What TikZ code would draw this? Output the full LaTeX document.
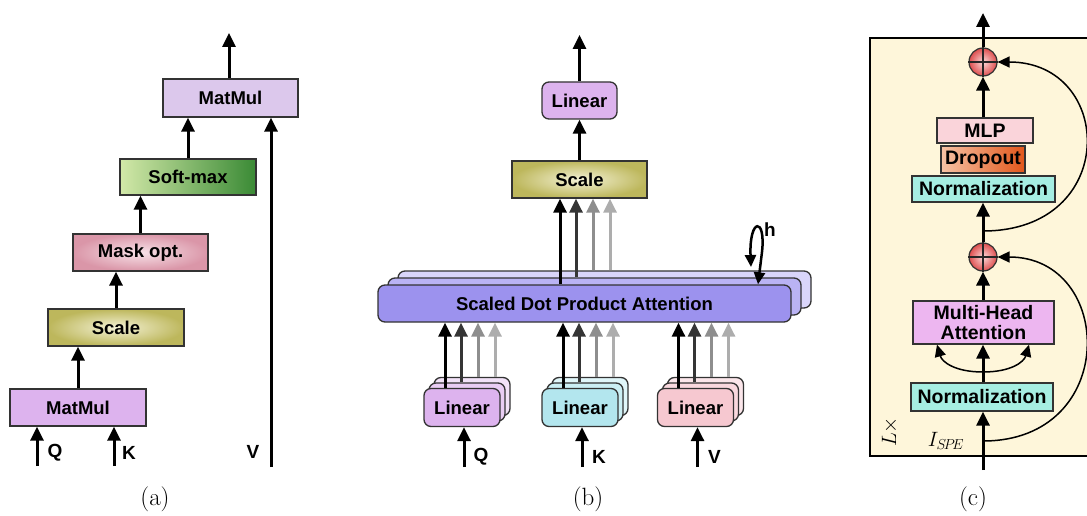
\documentclass[tikz,border=0pt]{standalone}
\usepackage{fontspec}
\newfontfamily\hvfont{Liberation Sans}
\usetikzlibrary{arrows.meta,shadings}
\definecolor{mmA}{HTML}{DCC8EC}
\definecolor{mmB}{HTML}{DDB3EE}
\definecolor{smL}{HTML}{D2E8A8}
\definecolor{smR}{HTML}{3A8A35}
\definecolor{mkIn}{HTML}{F7E2E8}
\definecolor{mkOut}{HTML}{DA96A8}
\definecolor{scIn}{HTML}{F4F2D6}
\definecolor{scOut}{HTML}{BDB75C}
\definecolor{sdpA}{HTML}{9C92EE}
\definecolor{sdpB}{HTML}{BAB3F4}
\definecolor{sdpC}{HTML}{D9D5FA}
\definecolor{linQ}{HTML}{DDB3EE}
\definecolor{linQb}{HTML}{E9CDF4}
\definecolor{linQc}{HTML}{F2E2F8}
\definecolor{linK}{HTML}{B3E6EE}
\definecolor{linKb}{HTML}{CBEFF4}
\definecolor{linKc}{HTML}{E0F6F9}
\definecolor{linV}{HTML}{F6C8D0}
\definecolor{linVb}{HTML}{F9D8DE}
\definecolor{linVc}{HTML}{FBE6EA}
\definecolor{bgc}{HTML}{FEF6DA}
\definecolor{mlpc}{HTML}{FAD4DA}
\definecolor{drL}{HTML}{F6C3A5}
\definecolor{drR}{HTML}{E2561A}
\definecolor{nrm}{HTML}{A6EEE2}
\definecolor{mhac}{HTML}{EDB6F0}
\definecolor{plusIn}{HTML}{FBDADA}
\definecolor{plusOut}{HTML}{DE4E4E}
\definecolor{dkg}{HTML}{353535}
\definecolor{mdg}{HTML}{8E8E8E}
\definecolor{ltg}{HTML}{ADADAD}
\tikzset{
  box/.style={draw=black!80, line width=1.3pt, inner sep=0pt, align=center,
    font=\hvfont\bfseries\fontsize{18.5}{20}\selectfont},
  rbox/.style={box, rounded corners=7pt},
  cbox/.style={box, font=\hvfont\bfseries\fontsize{19.5}{20}\selectfont},
  arr/.style={line width=3pt, -{Triangle[length=14pt,width=13pt]}},
  tarr/.style={line width=1.5pt, -{Triangle[length=12pt,width=11pt]}},
  lbl/.style={font=\hvfont\bfseries\fontsize{19}{20}\selectfont, inner sep=0pt},
  subcap/.style={font=\fontsize{25}{28}\selectfont, inner sep=0pt},
  plusnode/.style={circle, draw=black!80, line width=1.2pt, minimum size=28pt, inner sep=0pt, inner color=plusIn, outer color=plusOut},
}
\begin{document}
\begin{tikzpicture}[x=1pt,y=-1pt]
\useasboundingbox (0,0) rectangle (1087,516);

% ---------------- (a) ----------------
\node[box, fill=mmA, minimum width=135pt, minimum height=38pt] (amm2) at (230.5,98) {MatMul};
\node[box, left color=smL, right color=smR, minimum width=136pt, minimum height=36pt] (asm) at (188,177) {Soft-max};
\node[box, inner color=mkIn, outer color=mkOut, minimum width=135pt, minimum height=37pt] (amask) at (140.5,252.5) {Mask opt.};
\node[box, inner color=scIn, outer color=scOut, minimum width=136pt, minimum height=37pt] (ascale) at (116,327.5) {Scale};
\node[box, fill=mmB, minimum width=136pt, minimum height=37pt] (amm1) at (78,407.5) {MatMul};

\coordinate (aout) at (229,33);
\draw[arr] (amm2.north -| aout) -- (aout);
\draw[arr] (asm.north) -- (asm.north |- amm2.south);
\draw[arr] (amask.north) -- (amask.north |- asm.south);
\draw[arr] (ascale.north) -- (ascale.north |- amask.south);
\draw[arr] (amm1.north) -- (amm1.north |- ascale.south);
\coordinate (aq) at (37,466);
\coordinate (ak) at (114,466);
\coordinate (av) at (271,467);
\draw[arr] (aq) -- (aq |- amm1.south);
\draw[arr] (ak) -- (ak |- amm1.south);
\draw[arr] (av) -- (av |- amm2.south);
\node[lbl] (aQ) at (55,453) {Q};
\node[lbl] (aK) at (129,453) {K};
\node[lbl] (aV) at (253,452) {V};
\node[subcap] (acap) at (155,499) {(a)};

% ---------------- (b) ----------------
\node[rbox, fill=linQ, minimum width=75pt, minimum height=37pt] (blin) at (579.5,100.5) {Linear};
\node[box, inner color=scIn, outer color=scOut, minimum width=135pt, minimum height=37pt] (bscale) at (579.5,179.5) {Scale};
\coordinate (bout) at (580,35);
\draw[arr] (blin.north) -- (blin.north |- bout);
\draw[arr] (bscale.north) -- (bscale.north |- blin.south);

\node[rbox, fill=sdpC, minimum width=413pt, minimum height=37pt] (sd3) at (604.5,289.5) {};
\node[rbox, fill=sdpB, minimum width=413pt, minimum height=37pt] (sd2) at (594.5,296.5) {};
\node[rbox, fill=sdpA, minimum width=413pt, minimum height=37pt] (sd1) at (584.5,303.5) {Scaled Dot Product Attention};

\foreach \xx/\cc/\ss in {560/black/sd1, 576/dkg/sd2, 593/mdg/sd3, 610/ltg/sd3}
  \draw[arr, color=\cc] (\xx,0 |- \ss.north) -- (\xx,0 |- bscale.south);

% h loop
\coordinate (hs) at (751,267);
\draw[line width=2.5pt, {Triangle[length=12pt,width=11pt]}-{Triangle[length=12pt,width=11pt]}]
  (hs) .. controls (749,218) and (766,216) .. (762,252) -- (758,0 |- sd1.north);
\node[lbl] (hl) at (770,230) {h};

% Linear stacks
\foreach \nm/\cx/\ca/\cb/\cc/\lt in {q/462/linQ/linQb/linQc/Q, k/580/linK/linKb/linKc/K, v/695.5/linV/linVb/linVc/V}{
  \node[rbox, fill=\cc, minimum width=76pt, minimum height=38pt] (l\nm3) at (\cx+10,396.5) {};
  \node[rbox, fill=\cb, minimum width=76pt, minimum height=38pt] (l\nm2) at (\cx+5,402) {};
  \node[rbox, fill=\ca, minimum width=76pt, minimum height=38pt] (l\nm1) at (\cx,407.5) {Linear};
  \draw[arr, color=black] (\cx-17,0 |- l\nm1.north) -- (\cx-17,0 |- sd1.south);
  \draw[arr, color=dkg] (\cx-1,0 |- l\nm2.north) -- (\cx-1,0 |- sd1.south);
  \draw[arr, color=mdg] (\cx+16,0 |- l\nm3.north) -- (\cx+16,0 |- sd1.south);
  \draw[arr, color=ltg] (\cx+33,0 |- l\nm3.north) -- (\cx+33,0 |- sd1.south);
  \coordinate (in\nm) at (\cx+2,467);
  \draw[arr] (in\nm) -- (in\nm |- l\nm1.south);
  \node[lbl] (lab\nm) at (\cx+19,457) {\lt};
}
\node[subcap] (bcap) at (588,499) {(b)};

% ---------------- (c) ----------------
\draw[fill=bgc, line width=1.3pt] (870,38) rectangle (1100,456);

\node[plusnode] (p1) at (983,62) {};
\node[plusnode] (p2) at (983,257) {};
\foreach \pp in {p1,p2}
  \draw[line width=1.2pt, black!85] (\pp.north) -- (\pp.south) (\pp.west) -- (\pp.east);

\node[cbox, fill=mlpc, minimum width=96pt, minimum height=25pt] (mlp) at (985,130.5) {MLP};
\node[cbox, left color=drL, right color=drR, minimum width=84pt, minimum height=27pt] (drop) at (983,159.5) {Dropout};
\node[cbox, fill=nrm, minimum width=143pt, minimum height=26pt] (n1) at (983.5,189) {Normalization};
\node[cbox, fill=mhac, minimum width=141pt, minimum height=43pt] (mha) at (983.5,322.5) {Multi-Head\\Attention};
\node[cbox, fill=nrm, minimum width=142pt, minimum height=28pt] (n2) at (982,397) {Normalization};

\coordinate (cout) at (983,13);
\draw[arr] (p1.north) -- (cout);
\draw[arr] (p1 |- mlp.north) -- (p1.south);
\draw[arr] (p2.north) -- (p2.north |- n1.south);
\draw[arr] (p2 |- mha.north) -- (p2.south);
\draw[arr] (p2 |- n2.north) -- (p2 |- mha.south);
\coordinate (cin) at (983,470);
\draw[arr] (cin) -- (cin |- n2.south);

\coordinate (j1) at (983,231);
\coordinate (j2) at (983,441);
\coordinate (j3) at (983,372);
\draw[tarr] (j1) .. controls (1120,231) and (1115,62) .. (p1.east);
\draw[tarr] (j2) .. controls (1120,441) and (1115,257) .. (p2.east);
\draw[tarr] (j3) .. controls (955,372) and (942,362) .. (937,0 |- mha.south);
\draw[tarr] (j3) .. controls (1011,372) and (1024,362) .. (1029,0 |- mha.south);

\node[font=\fontsize{21}{24}\selectfont, inner sep=0pt] (ispe) at (946,441) {$I_{S\!P\!E}$};
\node[rotate=90, font=\fontsize{20}{24}\selectfont, inner sep=0pt] (lx) at (890,432) {$L\times$};
\node[subcap] (ccap) at (973,499) {(c)};
\end{tikzpicture}
\end{document}
